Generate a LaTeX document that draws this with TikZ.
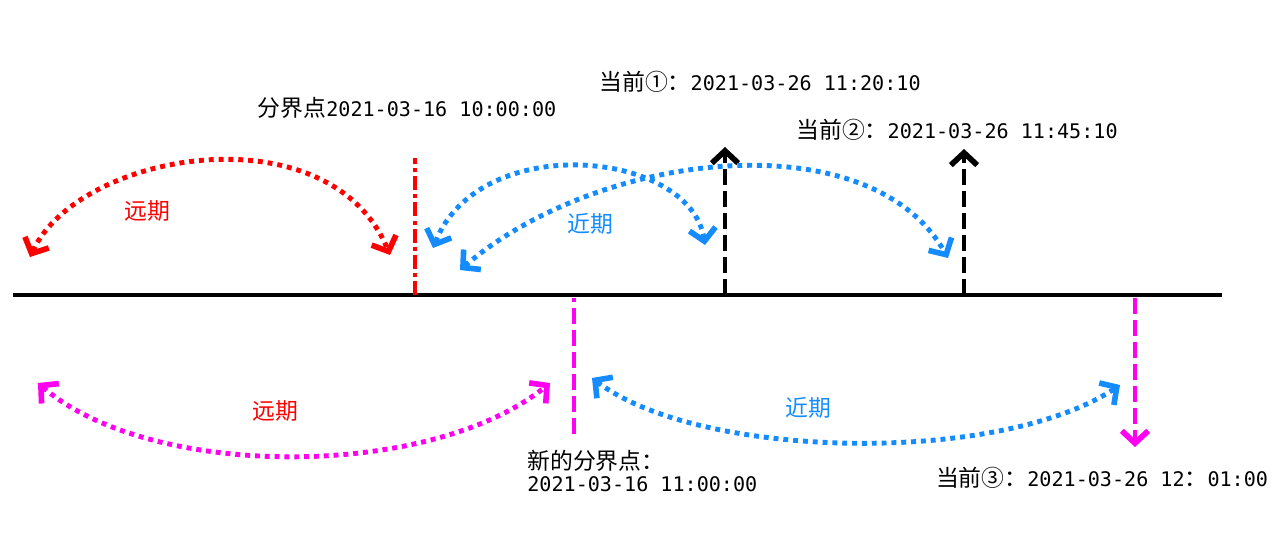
\documentclass[tikz,border=0pt]{standalone}
\usepackage{fontspec}
\setmainfont{Noto Sans CJK SC}
\newfontfamily\digi{DejaVu Sans Mono}[Scale=0.88]
\usetikzlibrary{arrows.meta, positioning}

\definecolor{farred}{RGB}{255,0,0}
\definecolor{nearblue}{RGB}{20,140,255}
\definecolor{newmag}{RGB}{255,0,240}

\tikzset{
    barb/.tip={Straight Barb[length=7pt, width=15pt, line width=3.2pt]},
    lbl/.style={inner sep=0pt, font=\fontsize{13pt}{12.5pt}\selectfont},
    span/.style={line width=2.8pt, dash pattern=on 2.8pt off 2.8pt, barb-barb},
    mark line/.style={line width=2.6pt, dash pattern=on 9pt off 3.5pt}
}

\begin{document}
\begin{tikzpicture}[x=0.02cm, y=-0.02cm]
    \useasboundingbox (0,0) rectangle (1280,557);

    % time axis
    \coordinate (axL) at (13,295);
    \coordinate (axR) at (1222,295);
    \draw[line width=2.7pt] (axL) -- (axR);

    % labels
    \node[lbl] (cut) at (407,108) {分界点{\digi 2021-03-16 10:00:00}};
    \node[lbl] (now1) at (760,82) {当前①：{\digi 2021-03-26 11:20:10}};
    \node[lbl] (now2) at (957,130) {当前②：{\digi 2021-03-26 11:45:10}};
    \node[lbl, align=left, anchor=west] (newcut) at (527,471) {新的分界点：\\{\digi 2021-03-16 11:00:00}};
    \node[lbl] (now3) at (1102,478) {当前③：{\digi 2021-03-26 12}：{\digi 01:00}};
    \node[lbl, text=farred] (far1) at (147,211) {远期};
    \node[lbl, text=nearblue] (near1) at (590,224) {近期};
    \node[lbl, text=farred] (far2) at (275,411) {远期};
    \node[lbl, text=nearblue] (near2) at (808,408) {近期};

    % marks on the axis
    \coordinate (cutB) at (415,295);
    \coordinate (cutT) at (415,158);
    \coordinate (c1B) at (725,295);
    \coordinate (c1T) at (725,147);
    \coordinate (c2B) at (964,295);
    \coordinate (c2T) at (964,149);
    \coordinate (nB) at (574,298);
    \coordinate (nT) at (574,434);
    \coordinate (c3B) at (1135,298);
    \coordinate (c3T) at (1135,447);

    \draw[line width=2.6pt, farred, dash pattern=on 8pt off 2.3pt on 2.3pt off 2.3pt] (cutB) -- (cutT);
    \draw[mark line, -barb] (c1B) -- (c1T);
    \draw[mark line, -barb] (c2B) -- (c2T);
    \draw[mark line, newmag] (nT) -- (nB);
    \draw[mark line, newmag, -barb] (c3B) -- (c3T);

    % spans above the axis
    \coordinate (rL) at (30,257);
    \coordinate (rR) at (390,255);
    \coordinate (b1L) at (433,248);
    \coordinate (b1R) at (705,245);
    \coordinate (b2L) at (460,270);
    \coordinate (b2R) at (948,258);
    \draw[span, farred] (rL) .. controls (80,150) and (330,110) .. (rR);
    \draw[span, nearblue] (b1L) .. controls (480,130) and (690,150) .. (b1R);
    \draw[span, nearblue] (b2L) .. controls (600,150) and (870,120) .. (b2R);

    % spans below the axis
    \coordinate (mL) at (38,383);
    \coordinate (mR) at (550,383);
    \coordinate (b3L) at (592,378);
    \coordinate (b3R) at (1120,385);
    \draw[span, newmag] (mL) .. controls (150,480) and (430,480) .. (mR);
    \draw[span, nearblue] (b3L) .. controls (700,460) and (1000,465) .. (b3R);
\end{tikzpicture}
\end{document}
